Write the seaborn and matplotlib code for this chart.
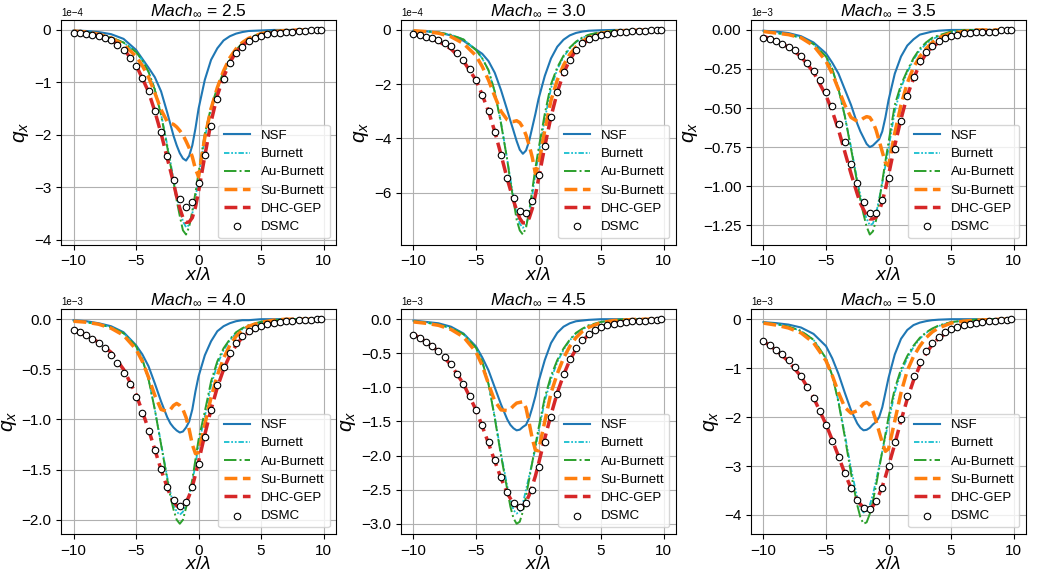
import numpy as np
import matplotlib
matplotlib.use("Agg")
import matplotlib.pyplot as plt
import seaborn as sns

# x positions of model curves and DSMC samples (x / lambda)
x_model = [-10, -9, -8, -7, -6, -5, -4.5, -4, -3.5, -3, -2.5, -2.25, -2, -1.75, -1.5, -1.25,
           -1, -0.75, -0.5, -0.25, 0, 0.5, 1, 1.5, 2, 2.5, 3, 3.5, 4, 5, 6, 7, 8, 9, 10]
x_dsmc = [-10, -9.5, -9, -8.5, -8, -7.5, -7, -6.5, -6, -5.5, -5, -4.5, -4, -3.5, -3, -2.5,
          -2, -1.5, -1, -0.5, 0, 0.5, 1, 1.5, 2, 2.5, 3, 3.5, 4, 4.5, 5, 5.5, 6, 6.5, 7, 7.5,
          8, 8.5, 9, 9.5, 9.8]

# Mach 2.5  (units 1e-4)
nsf_25 = [-0.01, -0.02, -0.04, -0.08, -0.17, -0.38, -0.55, -0.72, -0.9, -1.17, -1.58, -1.8, -2.02, -2.2, -2.35, -2.45,
          -2.49, -2.4, -2.2, -1.88, -1.5, -0.95, -0.57, -0.35, -0.2, -0.12, -0.07, -0.04, -0.02, -0.01, 0, 0, 0, 0, 0]
burnett_25 = [-0.02, -0.04, -0.08, -0.14, -0.24, -0.42, -0.58, -0.8, -1.12, -1.6, -2.2, -2.52, -2.85, -3.15, -3.42, -3.65,
              -3.76, -3.72, -3.5, -3.2, -2.85, -2.05, -1.52, -1.15, -0.84, -0.6, -0.4, -0.27, -0.17, -0.07, -0.03, -0.01, 0, 0, 0]
au_25 = [-0.02, -0.04, -0.08, -0.14, -0.24, -0.42, -0.58, -0.8, -1.14, -1.62, -2.24, -2.57, -2.9, -3.25, -3.55, -3.82,
         -3.9, -3.75, -3.45, -3.1, -2.72, -1.98, -1.47, -1.1, -0.8, -0.57, -0.38, -0.25, -0.16, -0.06, -0.02, -0.01, 0, 0, 0]
su_25 = [-0.02, -0.04, -0.08, -0.15, -0.28, -0.5, -0.68, -0.9, -1.2, -1.52, -1.75, -1.78, -1.8, -1.85, -1.92, -2.0,
         -2.12, -2.25, -2.42, -2.65, -2.8, -2.05, -1.5, -1.1, -0.78, -0.53, -0.36, -0.24, -0.16, -0.07, -0.03, -0.01, 0, 0, 0]
dhc_25 = [-0.04, -0.07, -0.11, -0.19, -0.36, -0.67, -0.92, -1.18, -1.55, -1.97, -2.45, -2.68, -2.92, -3.18, -3.4, -3.58,
          -3.67, -3.66, -3.58, -3.38, -3.08, -2.4, -1.75, -1.25, -0.9, -0.62, -0.42, -0.3, -0.21, -0.1, -0.05, -0.03, -0.02, -0.01, 0]
dsmc_25 = [-0.05, -0.06, -0.07, -0.09, -0.12, -0.15, -0.2, -0.28, -0.38, -0.54, -0.69, -0.91, -1.16, -1.54, -1.94, -2.41,
           -2.86, -3.22, -3.38, -3.28, -2.91, -2.38, -1.83, -1.32, -0.94, -0.63, -0.44, -0.32, -0.22, -0.16, -0.11, -0.08,
           -0.06, -0.05, -0.04, -0.03, -0.02, -0.02, -0.01, -0.01, 0]

# Mach 3.0  (units 1e-4)
nsf_30 = [-0.03, -0.05, -0.1, -0.2, -0.4, -0.72, -0.88, -1.15, -1.58, -2.22, -2.96, -3.35, -3.72, -4.1, -4.42, -4.57,
          -4.45, -4.1, -3.6, -3.1, -2.55, -1.7, -1.05, -0.62, -0.36, -0.2, -0.11, -0.06, -0.03, -0.01, 0, 0, 0, 0, 0]
burnett_30 = [-0.03, -0.05, -0.09, -0.18, -0.35, -0.74, -1.05, -1.5, -2.28, -3.42, -4.78, -5.5, -6.2, -6.8, -7.15, -7.3,
              -7.2, -6.8, -6.1, -5.3, -4.6, -3.3, -2.15, -1.45, -1.0, -0.68, -0.45, -0.3, -0.19, -0.08, -0.03, -0.01, 0, 0, 0]
au_30 = [-0.03, -0.05, -0.09, -0.18, -0.35, -0.74, -1.05, -1.48, -2.28, -3.45, -4.8, -5.6, -6.3, -7.0, -7.4, -7.55,
         -7.3, -6.7, -5.9, -5.1, -4.4, -3.1, -2.0, -1.38, -0.95, -0.65, -0.43, -0.28, -0.18, -0.07, -0.03, -0.01, 0, 0, 0]
su_30 = [-0.03, -0.06, -0.12, -0.25, -0.5, -0.95, -1.35, -1.85, -2.45, -3.0, -3.32, -3.38, -3.38, -3.35, -3.42, -3.6,
         -3.88, -4.25, -4.7, -5.3, -5.0, -3.7, -2.6, -1.85, -1.3, -0.9, -0.62, -0.42, -0.28, -0.12, -0.05, -0.02, -0.01, 0, 0]
dhc_30 = [-0.15, -0.27, -0.42, -0.7, -1.15, -1.85, -2.4, -3.0, -3.75, -4.6, -5.5, -5.9, -6.3, -6.65, -6.95, -7.12,
          -7.12, -6.95, -6.6, -6.1, -5.5, -4.3, -3.2, -2.3, -1.6, -1.1, -0.75, -0.52, -0.37, -0.19, -0.1, -0.05, -0.03, -0.02, -0.01]
dsmc_30 = [-0.16, -0.2, -0.25, -0.3, -0.38, -0.47, -0.6, -0.85, -1.1, -1.45, -1.85, -2.4, -3.0, -3.75, -4.6, -5.45,
           -6.2, -6.7, -6.75, -6.3, -5.35, -4.3, -3.2, -2.3, -1.55, -1.1, -0.75, -0.5, -0.35, -0.27, -0.2, -0.15,
           -0.12, -0.08, -0.06, -0.05, -0.04, -0.03, -0.02, -0.01, 0]

# Mach 3.5  (units 1e-3)
nsf_35 = [-0.005, -0.01, -0.02, -0.04, -0.08, -0.15, -0.21, -0.28, -0.38, -0.48, -0.6, -0.65, -0.69, -0.73, -0.75, -0.74,
          -0.72, -0.7, -0.65, -0.56, -0.45, -0.28, -0.17, -0.1, -0.06, -0.03, -0.02, -0.01, -0.005, 0, 0, 0, 0, 0, 0]
burnett_35 = [-0.01, -0.02, -0.03, -0.05, -0.09, -0.17, -0.25, -0.38, -0.55, -0.75, -0.96, -1.06, -1.15, -1.21, -1.25, -1.24,
              -1.18, -1.08, -0.98, -0.87, -0.76, -0.52, -0.37, -0.27, -0.19, -0.13, -0.09, -0.06, -0.04, -0.015, 0, 0, 0, 0, 0]
au_35 = [-0.01, -0.02, -0.03, -0.05, -0.09, -0.17, -0.25, -0.38, -0.55, -0.76, -0.98, -1.09, -1.18, -1.26, -1.31, -1.29,
         -1.22, -1.1, -0.97, -0.84, -0.72, -0.48, -0.35, -0.26, -0.18, -0.12, -0.08, -0.05, -0.035, -0.01, 0, 0, 0, 0, 0]
su_35 = [-0.01, -0.02, -0.03, -0.05, -0.1, -0.2, -0.28, -0.38, -0.48, -0.56, -0.585, -0.58, -0.565, -0.555, -0.56, -0.59,
         -0.64, -0.71, -0.78, -0.85, -0.87, -0.66, -0.48, -0.34, -0.24, -0.17, -0.12, -0.08, -0.05, -0.02, -0.01, 0, 0, 0, 0]
dhc_35 = [-0.04, -0.07, -0.11, -0.17, -0.27, -0.42, -0.52, -0.64, -0.78, -0.92, -1.05, -1.11, -1.15, -1.19, -1.21, -1.21,
          -1.2, -1.16, -1.1, -1.02, -0.93, -0.74, -0.57, -0.42, -0.31, -0.22, -0.15, -0.11, -0.08, -0.04, -0.02, -0.01, -0.01, 0, 0]
dsmc_35 = [-0.05, -0.06, -0.07, -0.09, -0.11, -0.13, -0.17, -0.21, -0.26, -0.32, -0.4, -0.49, -0.6, -0.72, -0.86, -0.98,
           -1.1, -1.17, -1.17, -1.09, -0.95, -0.76, -0.58, -0.42, -0.3, -0.2, -0.14, -0.1, -0.07, -0.05, -0.04, -0.03,
           -0.02, -0.02, -0.01, -0.01, -0.01, -0.01, 0, 0, 0]

# Mach 4.0  (units 1e-3)
nsf_40 = [-0.01, -0.02, -0.04, -0.07, -0.13, -0.26, -0.35, -0.47, -0.64, -0.82, -0.98, -1.04, -1.08, -1.11, -1.13, -1.12,
          -1.08, -1.02, -0.9, -0.72, -0.57, -0.36, -0.22, -0.12, -0.07, -0.04, -0.02, -0.01, -0.01, 0, 0, 0, 0, 0, 0]
burnett_40 = [-0.02, -0.03, -0.05, -0.08, -0.14, -0.27, -0.4, -0.6, -0.9, -1.24, -1.58, -1.73, -1.85, -1.92, -1.95, -1.92,
              -1.85, -1.75, -1.62, -1.45, -1.25, -0.97, -0.66, -0.45, -0.31, -0.21, -0.14, -0.1, -0.07, -0.03, -0.01, 0, 0, 0, 0]
au_40 = [-0.02, -0.03, -0.05, -0.08, -0.14, -0.27, -0.4, -0.6, -0.9, -1.25, -1.6, -1.77, -1.9, -2.0, -2.04, -2.0,
         -1.88, -1.75, -1.6, -1.4, -1.2, -0.92, -0.62, -0.42, -0.29, -0.2, -0.13, -0.09, -0.06, -0.025, -0.01, 0, 0, 0, 0]
su_40 = [-0.02, -0.03, -0.05, -0.09, -0.16, -0.3, -0.42, -0.58, -0.76, -0.9, -0.92, -0.9, -0.86, -0.84, -0.86, -0.9,
         -0.98, -1.1, -1.25, -1.34, -1.33, -1.05, -0.78, -0.56, -0.39, -0.26, -0.17, -0.11, -0.07, -0.03, -0.01, 0, 0, 0, 0]
dhc_40 = [-0.11, -0.16, -0.23, -0.33, -0.5, -0.75, -0.92, -1.1, -1.3, -1.5, -1.68, -1.76, -1.82, -1.86, -1.88, -1.87,
          -1.83, -1.76, -1.67, -1.55, -1.42, -1.15, -0.9, -0.68, -0.5, -0.36, -0.26, -0.18, -0.13, -0.07, -0.04, -0.02, -0.01, -0.01, 0]
dsmc_40 = [-0.11, -0.13, -0.16, -0.2, -0.24, -0.29, -0.36, -0.44, -0.54, -0.65, -0.78, -0.94, -1.11, -1.3, -1.49, -1.67,
           -1.8, -1.86, -1.82, -1.67, -1.44, -1.17, -0.91, -0.66, -0.48, -0.34, -0.24, -0.17, -0.12, -0.09, -0.07, -0.05,
           -0.04, -0.03, -0.02, -0.02, -0.01, -0.01, -0.01, 0, 0]

# Mach 4.5  (units 1e-3)
nsf_45 = [-0.02, -0.04, -0.06, -0.11, -0.21, -0.4, -0.56, -0.75, -1.0, -1.25, -1.47, -1.55, -1.6, -1.63, -1.62, -1.58,
          -1.55, -1.45, -1.3, -1.13, -0.92, -0.6, -0.35, -0.2, -0.11, -0.06, -0.03, -0.02, -0.01, 0, 0, 0, 0, 0, 0]
burnett_45 = [-0.03, -0.05, -0.08, -0.13, -0.22, -0.42, -0.62, -0.95, -1.43, -1.97, -2.45, -2.65, -2.8, -2.85, -2.82, -2.7,
              -2.5, -2.3, -2.1, -1.9, -1.65, -1.2, -0.88, -0.63, -0.45, -0.31, -0.21, -0.15, -0.1, -0.04, -0.015, 0, 0, 0, 0]
au_45 = [-0.03, -0.05, -0.08, -0.13, -0.22, -0.42, -0.62, -0.95, -1.45, -2.0, -2.5, -2.75, -2.92, -3.0, -2.97, -2.82,
         -2.6, -2.35, -2.1, -1.85, -1.6, -1.15, -0.83, -0.6, -0.43, -0.3, -0.2, -0.14, -0.09, -0.04, -0.015, 0, 0, 0, 0]
su_45 = [-0.04, -0.06, -0.09, -0.15, -0.26, -0.48, -0.68, -0.95, -1.2, -1.33, -1.34, -1.32, -1.27, -1.23, -1.22, -1.21,
         -1.3, -1.52, -1.75, -1.92, -1.93, -1.5, -1.08, -0.8, -0.57, -0.4, -0.27, -0.18, -0.12, -0.05, -0.02, -0.01, 0, 0, 0]
dhc_45 = [-0.22, -0.33, -0.47, -0.67, -0.95, -1.33, -1.57, -1.82, -2.08, -2.33, -2.55, -2.63, -2.7, -2.74, -2.76, -2.74,
          -2.68, -2.58, -2.45, -2.3, -2.12, -1.75, -1.4, -1.08, -0.82, -0.6, -0.44, -0.32, -0.23, -0.12, -0.06, -0.03, -0.02, -0.01, 0]
dsmc_45 = [-0.23, -0.27, -0.33, -0.39, -0.46, -0.56, -0.66, -0.8, -0.95, -1.12, -1.33, -1.55, -1.8, -2.06, -2.32, -2.53,
           -2.7, -2.76, -2.7, -2.5, -2.17, -1.8, -1.43, -1.09, -0.8, -0.58, -0.42, -0.3, -0.22, -0.16, -0.12, -0.09,
           -0.07, -0.05, -0.04, -0.03, -0.02, -0.02, -0.01, -0.01, 0]

# Mach 5.0  (units 1e-3)
nsf_50 = [-0.06, -0.08, -0.11, -0.17, -0.3, -0.55, -0.8, -1.12, -1.5, -1.86, -2.13, -2.22, -2.27, -2.26, -2.22, -2.15,
          -2.1, -2.0, -1.8, -1.5, -1.2, -0.72, -0.4, -0.22, -0.12, -0.07, -0.04, -0.02, -0.01, 0, 0, 0, 0, 0, 0]
burnett_50 = [-0.07, -0.1, -0.15, -0.24, -0.42, -0.8, -1.15, -1.68, -2.35, -3.05, -3.65, -3.85, -3.95, -3.92, -3.8, -3.58,
              -3.3, -3.0, -2.7, -2.4, -2.1, -1.5, -1.08, -0.8, -0.57, -0.4, -0.28, -0.2, -0.14, -0.06, -0.03, -0.01, 0, 0, 0]
au_50 = [-0.07, -0.1, -0.15, -0.24, -0.42, -0.8, -1.15, -1.7, -2.4, -3.15, -3.8, -4.05, -4.18, -4.15, -3.98, -3.72,
         -3.4, -3.05, -2.7, -2.35, -2.0, -1.42, -1.02, -0.75, -0.54, -0.38, -0.27, -0.19, -0.13, -0.06, -0.03, -0.01, 0, 0, 0]
su_50 = [-0.08, -0.12, -0.18, -0.28, -0.48, -0.85, -1.15, -1.5, -1.8, -1.92, -1.87, -1.8, -1.73, -1.7, -1.75, -1.88,
         -2.08, -2.3, -2.52, -2.7, -2.65, -2.08, -1.5, -1.05, -0.76, -0.55, -0.38, -0.26, -0.18, -0.08, -0.04, -0.02, -0.01, 0, 0]
dhc_50 = [-0.45, -0.63, -0.86, -1.17, -1.6, -2.15, -2.47, -2.8, -3.15, -3.45, -3.7, -3.78, -3.85, -3.87, -3.87, -3.82,
          -3.72, -3.58, -3.42, -3.22, -3.0, -2.55, -2.07, -1.63, -1.25, -0.95, -0.7, -0.52, -0.39, -0.22, -0.12, -0.07, -0.04, -0.02, -0.01]
dsmc_50 = [-0.45, -0.53, -0.62, -0.72, -0.84, -0.98, -1.17, -1.38, -1.61, -1.88, -2.17, -2.48, -2.81, -3.15, -3.45, -3.7,
           -3.86, -3.88, -3.72, -3.44, -3.0, -2.51, -2.03, -1.57, -1.17, -0.87, -0.65, -0.48, -0.36, -0.27, -0.2, -0.16,
           -0.12, -0.09, -0.07, -0.05, -0.04, -0.03, -0.02, -0.01, 0]

mach_numbers = ["2.5", "3.0", "3.5", "4.0", "4.5", "5.0"]
scales = [1e-4, 1e-4, 1e-3, 1e-3, 1e-3, 1e-3]
panels = [
    (nsf_25, burnett_25, au_25, su_25, dhc_25, dsmc_25),
    (nsf_30, burnett_30, au_30, su_30, dhc_30, dsmc_30),
    (nsf_35, burnett_35, au_35, su_35, dhc_35, dsmc_35),
    (nsf_40, burnett_40, au_40, su_40, dhc_40, dsmc_40),
    (nsf_45, burnett_45, au_45, su_45, dhc_45, dsmc_45),
    (nsf_50, burnett_50, au_50, su_50, dhc_50, dsmc_50),
]

plt.rcParams["font.family"] = ["Liberation Sans", "DejaVu Sans"]
plt.rcParams["mathtext.fontset"] = "custom"
plt.rcParams["mathtext.rm"] = "Liberation Sans"
plt.rcParams["mathtext.it"] = "Liberation Sans:italic"
plt.rcParams["axes.unicode_minus"] = True

fig = plt.figure(figsize=(10.38, 5.8), dpi=100)
lefts = [0.0588, 0.3863, 0.7235]
bottoms = [0.578, 0.0793]

for i, (mach, scale, curves) in enumerate(zip(mach_numbers, scales, panels)):
    nsf, burnett, au, su, dhc, dsmc = [np.array(c) * scale for c in curves]
    ax = fig.add_axes([lefts[i % 3], bottoms[i // 3], 0.265, 0.388])

    sns.lineplot(x=x_model, y=nsf, ax=ax, color="#1f77b4", lw=1.5, label="NSF")
    sns.lineplot(x=x_model, y=burnett, ax=ax, color="#17becf", lw=1.3,
                 linestyle=(0, (3, 1, 1, 1, 1, 1)), label="Burnett")
    sns.lineplot(x=x_model, y=au, ax=ax, color="#2ca02c", lw=1.4, linestyle="-.", label="Au-Burnett")
    sns.lineplot(x=x_model, y=su, ax=ax, color="#ff7f0e", lw=2.5, linestyle="--", label="Su-Burnett")
    sns.lineplot(x=x_model, y=dhc, ax=ax, color="#d62728", lw=2.5, linestyle="--", label="DHC-GEP")
    sns.scatterplot(x=x_dsmc, y=dsmc, ax=ax, marker="o", color="white", edgecolor="black",
                    s=22, linewidth=0.8, label="DSMC", zorder=5)

    ax.grid(True, color="#b0b0b0", lw=0.8)
    ax.set_axisbelow(True)
    ax.ticklabel_format(axis="y", style="sci", scilimits=(0, 0))
    ax.set_title(f"$Mach_{{\\infty}}$ = {mach}", fontsize=12.5, pad=3)
    ax.set_xlabel(r"$x/\lambda$", fontsize=14, labelpad=-1)
    ax.set_ylabel(r"$q_x$", fontsize=15, labelpad=2)
    ax.set_xticks([-10, -5, 0, 5, 10])
    ax.tick_params(labelsize=11)
    ax.yaxis.get_offset_text().set_fontsize(7)
    ax.legend(loc="lower right", fontsize=9.5, labelspacing=0.45)

fig.savefig("out.png", dpi=100)
